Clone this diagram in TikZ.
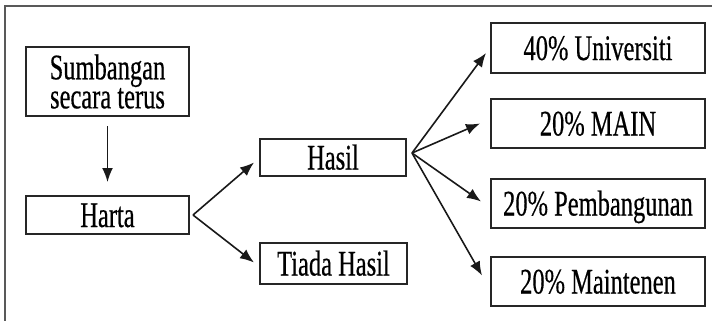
\documentclass[tikz,border=0pt]{standalone}
\usepackage{fontspec}
\setmainfont[FakeStretch=0.68, FakeBold=0.4]{Liberation Serif}
\usetikzlibrary{arrows.meta, positioning}

\begin{document}
\begin{tikzpicture}[
        x=1bp, y=-1bp,
        every node/.style={draw=black!85, line width=2bp, rectangle, inner sep=0pt, font=\fontsize{36bp}{28bp}\selectfont},
        oneline/.style={text height=24bp, text depth=0pt},
        arrow/.style={-{Latex[length=14bp, width=11bp]}, line width=1.6bp, black!90}
    ]
    \useasboundingbox (0,0) rectangle (712,321);

    % Frame
    \draw[black!65, line width=1.5bp] (712,6) -- (5,6) -- (5,321);

    % Nodes for left part
    \node[minimum width=163bp, minimum height=69bp, align=center] (sumbangan) at (107.5, 81.5) {Sumbangan\\secara terus};
    \node[oneline, minimum width=163bp, minimum height=38bp] (harta) at (107.5, 215) {Harta};
    \node[oneline, minimum width=146bp, minimum height=37bp] (hasil) at (333, 157.5) {Hasil};
    \node[oneline, minimum width=147bp, minimum height=41bp] (tiada) at (333.5, 263.5) {Tiada Hasil};

    % Nodes for shares
    \node[oneline, minimum width=214bp, minimum height=50bp] (univ) at (598, 48) {40\% Universiti};
    \node[oneline, minimum width=214bp, minimum height=49bp] (main) at (598, 123.5) {20\% MAIN};
    \node[oneline, minimum width=214bp, minimum height=49bp] (pemb) at (598, 203.5) {20\% Pembangunan};
    \node[oneline, minimum width=214bp, minimum height=49bp] (maint) at (598, 281.5) {20\% Maintenen};

    % Edges
    \draw[arrow] ([shift={(0,9)}]sumbangan.south) -- ([shift={(0,-13)}]harta.north);
    \draw[arrow] ([xshift=3bp]harta.east) -- ([shift={(-5,5)}]hasil.west);
    \draw[arrow] ([xshift=3bp]harta.east) -- ([shift={(-5,-1)}]tiada.west);

    \coordinate (fork) at ([shift={(5,-4.5)}]hasil.east);
    \draw[arrow] (fork) -- ([shift={(-4,5)}]univ.west);
    \draw[arrow] (fork) -- ([shift={(-10,0)}]main.west);
    \draw[arrow] (fork) -- ([shift={(-9,-2)}]pemb.west);
    \draw[arrow] (fork) -- ([shift={(-8,-6)}]maint.west);

\end{tikzpicture}
\end{document}
